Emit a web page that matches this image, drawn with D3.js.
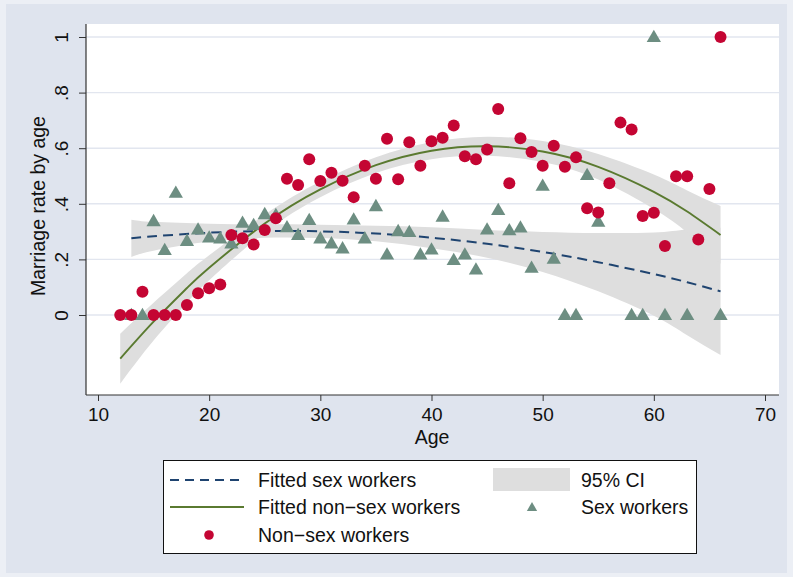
<!DOCTYPE html>
<html>
<head>
<meta charset="utf-8">
<script src="https://cdn.jsdelivr.net/npm/d3@7"></script>
<style>
  body { margin: 0; background: #eceff5; }
  text { font-family: "Liberation Sans", Arial, sans-serif; fill: #111; }
</style>
</head>
<body>
<svg id="chart" width="793" height="577"></svg>
<script>
///// Data

// non-sex workers, one point per age
let nonAges = [12, 13, 14, 15, 16, 17, 18, 19, 20, 21, 22, 23, 24, 25, 26, 27, 28, 29, 30, 31,
    32, 33, 34, 35, 36, 37, 38, 39, 40, 41, 42, 43, 44, 45, 46, 47, 48, 49, 50, 51,
    52, 53, 54, 55, 56, 57, 58, 59, 60, 61, 62, 63, 64, 65, 66];
let nonRate = [0, 0, 0.084, 0, 0, 0, 0.036, 0.078, 0.096, 0.11, 0.288, 0.276, 0.254, 0.306, 0.348, 0.49, 0.468, 0.56, 0.482, 0.512,
    0.483, 0.424, 0.537, 0.49, 0.634, 0.488, 0.621, 0.537, 0.625, 0.638, 0.682, 0.571, 0.56, 0.595, 0.741, 0.474, 0.636, 0.586, 0.537, 0.609,
    0.533, 0.567, 0.384, 0.369, 0.474, 0.692, 0.667, 0.356, 0.368, 0.248, 0.499, 0.499, 0.272, 0.453, 1.0];

// sex workers
let sexAges = [13, 14, 15, 16, 17, 18, 19, 20, 21, 22, 23, 24, 25, 26, 27, 28, 29, 30, 31, 32,
    33, 34, 35, 36, 37, 38, 39, 40, 41, 42, 43, 44, 45, 46, 47, 48, 49, 50, 51, 52,
    53, 54, 55, 58, 59, 60, 61, 63, 66];
let sexRate = [0, 0, 0.338, 0.234, 0.44, 0.267, 0.308, 0.279, 0.276, 0.258, 0.332, 0.324, 0.363, 0.36, 0.316, 0.288, 0.342, 0.276, 0.258, 0.24,
    0.344, 0.276, 0.392, 0.218, 0.302, 0.299, 0.218, 0.236, 0.354, 0.198, 0.218, 0.164, 0.308, 0.378, 0.305, 0.315, 0.17, 0.465, 0.203, 0,
    0, 0.504, 0.336, 0, 0, 1.0, 0, 0, 0];

// fitted curves with 95% CI
let nonFitAges = [12, 15, 18, 20, 25, 30, 35, 40, 45, 50, 55, 60, 63, 66];
let nonFit = [-0.157, -0.024, 0.097, 0.170, 0.329, 0.452, 0.539, 0.591, 0.607, 0.588, 0.533, 0.443, 0.372, 0.288];
let nonLo = [-0.247, -0.092, 0.044, 0.125, 0.297, 0.424, 0.511, 0.560, 0.573, 0.550, 0.487, 0.381, 0.296, 0.184];
let nonHi = [-0.067, 0.044, 0.150, 0.215, 0.361, 0.480, 0.567, 0.622, 0.641, 0.626, 0.579, 0.505, 0.448, 0.392];

let sexFitAges = [13, 15, 20, 25, 30, 35, 40, 45, 50, 55, 60, 63, 66];
let sexFit = [0.276, 0.283, 0.296, 0.302, 0.301, 0.293, 0.278, 0.256, 0.227, 0.190, 0.147, 0.118, 0.085];
let sexLo = [0.209, 0.231, 0.264, 0.278, 0.277, 0.265, 0.240, 0.206, 0.155, 0.085, -0.003, -0.073, -0.144];
let sexHi = [0.343, 0.335, 0.328, 0.326, 0.325, 0.321, 0.316, 0.306, 0.299, 0.295, 0.297, 0.308, 0.314];

// axes
let xTicks = [10, 20, 30, 40, 50, 60, 70];
let yTicks = [0, 0.2, 0.4, 0.6, 0.8, 1];
let yTickLabels = ["0", ".2", ".4", ".6", ".8", "1"];

///// Colours

let colNavy = "#1f4470";
let colGreen = "#5a7a30";
let colRed = "#c40533";
let colTeal = "#6d8e82";
let colBand = "#dedede";

///// Layout

let plot = { left: 86, right: 779, top: 24, bottom: 395 };

let x = d3.scaleLinear().domain([10, 70]).range([98, 765]);
let y = d3.scaleLinear().domain([0, 1]).range([315, 37]);

let svg = d3.select("#chart");

// background
svg.append("rect").attr("x", 6).attr("y", 4).attr("width", 781).attr("height", 569).attr("fill", "#dfe4ee");
svg.append("rect")
    .attr("x", plot.left).attr("y", plot.top)
    .attr("width", plot.right - plot.left).attr("height", plot.bottom - plot.top)
    .attr("fill", "#fff");

// gridlines
svg.append("g").selectAll("line")
    .data(yTicks)
    .join("line")
    .attr("x1", plot.left).attr("x2", plot.right)
    .attr("y1", d => y(d)).attr("y2", d => y(d))
    .attr("stroke", "#e2e6ef").attr("stroke-width", 1.4);

///// CI bands

function toRows(ages, lo, hi, fit) {
    return ages.map((a, i) => ({ age: a, lo: lo[i], hi: hi[i], fit: fit[i] }));
}
let nonRows = toRows(nonFitAges, nonLo, nonHi, nonFit);
let sexRows = toRows(sexFitAges, sexLo, sexHi, sexFit);

let band = d3.area()
    .curve(d3.curveNatural)
    .x(d => x(d.age))
    .y0(d => y(d.lo))
    .y1(d => y(d.hi));

let fitLine = d3.line()
    .curve(d3.curveNatural)
    .x(d => x(d.age))
    .y(d => y(d.fit));

let g = svg.append("g");
g.append("path").datum(sexRows).attr("d", band).attr("fill", colBand);
g.append("path").datum(nonRows).attr("d", band).attr("fill", colBand);

g.append("path").datum(sexRows).attr("d", fitLine)
    .attr("fill", "none").attr("stroke", colNavy).attr("stroke-width", 2)
    .attr("stroke-dasharray", "10,6");
g.append("path").datum(nonRows).attr("d", fitLine)
    .attr("fill", "none").attr("stroke", colGreen).attr("stroke-width", 1.9);

///// Markers

let tri = d3.symbol(d3.symbolTriangle).size(88);

g.append("g").selectAll("path")
    .data(sexAges)
    .join("path")
    .attr("d", tri)
    .attr("transform", (d, i) => "translate(" + x(d) + "," + (y(sexRate[i]) + 1) + ")")
    .attr("fill", colTeal);

g.append("g").selectAll("circle")
    .data(nonAges)
    .join("circle")
    .attr("cx", d => x(d))
    .attr("cy", (d, i) => y(nonRate[i]))
    .attr("r", 6)
    .attr("fill", colRed);

///// Axes

let yAxis = svg.append("g")
    .attr("transform", "translate(" + plot.left + ",0)")
    .call(d3.axisLeft(y).tickValues(yTicks).tickSize(7).tickSizeOuter(0)
        .tickFormat(d => yTickLabels[yTicks.indexOf(d)]));
yAxis.select(".domain").remove();
yAxis.selectAll("line").attr("stroke", "#333");
yAxis.selectAll("text")
    .attr("transform", "rotate(-90)")
    .attr("x", 0).attr("y", -18).attr("dy", 0)
    .attr("text-anchor", "middle")
    .style("font-size", "19px").attr("fill", "#111");

let xAxis = svg.append("g")
    .attr("transform", "translate(0," + plot.bottom + ")")
    .call(d3.axisBottom(x).tickValues(xTicks).tickSize(6).tickSizeOuter(0));
xAxis.select(".domain").remove();
xAxis.selectAll("line").attr("stroke", "#333");
xAxis.selectAll("text")
    .attr("y", 13)
    .style("font-size", "19px").attr("fill", "#111");

svg.append("line")
    .attr("x1", plot.left).attr("x2", plot.left)
    .attr("y1", plot.top).attr("y2", plot.bottom)
    .attr("stroke", "#333").attr("stroke-width", 1.2);
svg.append("line")
    .attr("x1", plot.left).attr("x2", plot.right)
    .attr("y1", plot.bottom).attr("y2", plot.bottom)
    .attr("stroke", "#333").attr("stroke-width", 1.2);

// titles
svg.append("text")
    .attr("transform", "translate(45,206) rotate(-90)")
    .attr("text-anchor", "middle")
    .style("font-size", "19.5px")
    .text("Marriage rate by age");

svg.append("text")
    .attr("x", 432).attr("y", 444)
    .attr("text-anchor", "middle")
    .style("font-size", "19.5px")
    .text("Age");

///// Legend

let lg = svg.append("g");
lg.append("rect")
    .attr("x", 163.5).attr("y", 460.5).attr("width", 533).attr("height", 93)
    .attr("fill", "#fff").attr("stroke", "#111").attr("stroke-width", 1);

let rows = [480, 507, 535];

lg.append("line").attr("x1", 170).attr("x2", 244).attr("y1", rows[0]).attr("y2", rows[0])
    .attr("stroke", colNavy).attr("stroke-width", 2).attr("stroke-dasharray", "9,6");
lg.append("line").attr("x1", 170).attr("x2", 244).attr("y1", rows[1]).attr("y2", rows[1])
    .attr("stroke", colGreen).attr("stroke-width", 1.9);
lg.append("circle").attr("cx", 209).attr("cy", rows[2]).attr("r", 4.8).attr("fill", colRed);
lg.append("rect").attr("x", 493).attr("y", 468).attr("width", 77).attr("height", 23).attr("fill", colBand);
lg.append("path").attr("d", d3.symbol(d3.symbolTriangle).size(46))
    .attr("transform", "translate(532," + (rows[1] + 1) + ")").attr("fill", colTeal);

let legendText = [
    { x: 258, y: rows[0], t: "Fitted sex workers" },
    { x: 258, y: rows[1], t: "Fitted non\u2212sex workers" },
    { x: 258, y: rows[2], t: "Non\u2212sex workers" },
    { x: 581, y: rows[0], t: "95% CI" },
    { x: 581, y: rows[1], t: "Sex workers" }
];
lg.selectAll("text.lab")
    .data(legendText)
    .join("text")
    .attr("class", "lab")
    .attr("x", d => d.x).attr("y", d => d.y + 6.5)
    .style("font-size", "19.5px")
    .text(d => d.t);
</script>
</body>
</html>
